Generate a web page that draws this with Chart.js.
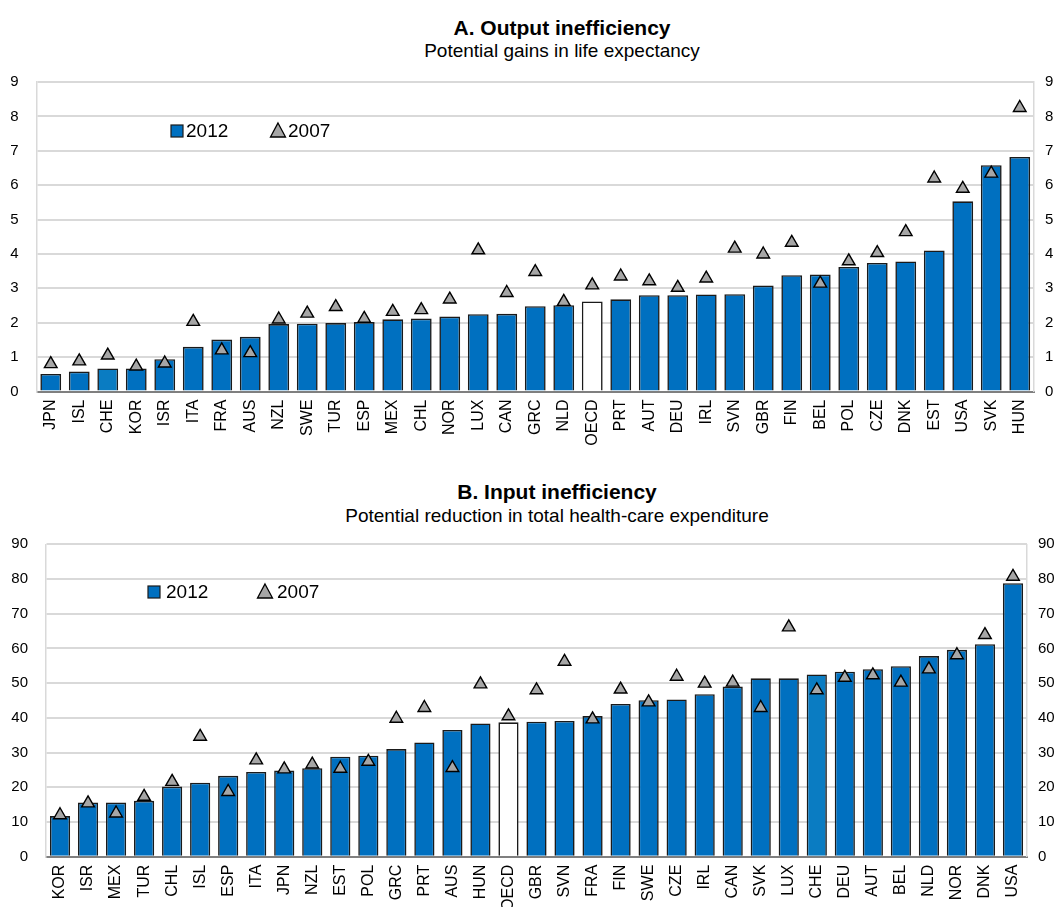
<!DOCTYPE html>
<html>
<head>
<meta charset="utf-8">
<script src="https://cdn.jsdelivr.net/npm/chart.js@4.4.1/dist/chart.umd.min.js"></script>
<style>
  html, body { margin: 0; padding: 0; background: #fff; }
  body { width: 1057px; height: 907px; position: relative; overflow: hidden; font-family: "Liberation Sans", Arial, sans-serif; }
  .ttl { position: absolute; transform: translateX(-50%); white-space: nowrap; color: #000; }
  .main { font-weight: bold; font-size: 21px; line-height: 24px; }
  .sub { font-size: 19px; line-height: 22px; }
  canvas { position: absolute; left: 0; }
</style>
</head>
<body>
<div class="ttl main" style="left:562px; top:16px;">A. Output inefficiency</div>
<div class="ttl sub" style="left:562px; top:40px;">Potential gains in life expectancy</div>
<div class="ttl main" style="left:557px; top:480px;">B. Input inefficiency</div>
<div class="ttl sub" style="left:557px; top:505px;">Potential reduction in total health-care expenditure</div>
<canvas id="cA" width="1057" height="455" style="top:0px"></canvas>
<canvas id="cB" width="1057" height="447" style="top:460px"></canvas>
<script>
// ---------- Data ----------
const seriesLabels = ['2012', '2007'];

const catsA = ['JPN','ISL','CHE','KOR','ISR','ITA','FRA','AUS','NZL','SWE','TUR','ESP','MEX','CHL','NOR','LUX','CAN','GRC','NLD','OECD','PRT','AUT','DEU','IRL','SVN','GBR','FIN','BEL','POL','CZE','DNK','EST','USA','SVK','HUN'];
const a2012 = [0.51,0.58,0.67,0.67,0.94,1.30,1.51,1.59,1.96,1.97,1.99,2.02,2.10,2.12,2.18,2.25,2.26,2.48,2.51,2.62,2.68,2.80,2.80,2.82,2.83,3.08,3.38,3.40,3.62,3.74,3.78,4.10,5.53,6.58,6.82];
const a2007 = [0.80,0.88,1.05,0.73,0.82,2.03,1.20,1.12,2.10,2.27,2.46,2.12,2.32,2.37,2.68,4.11,2.87,3.48,2.61,3.09,3.35,3.21,3.02,3.29,4.16,3.99,4.33,3.14,3.79,4.03,4.64,6.20,5.90,6.34,8.25];
const ticksA = [0,1,2,3,4,5,6,7,8,9];

const catsB = ['KOR','ISR','MEX','TUR','CHL','ISL','ESP','ITA','JPN','NZL','EST','POL','GRC','PRT','AUS','HUN','OECD','GBR','SVN','FRA','FIN','SWE','CZE','IRL','CAN','SVK','LUX','CHE','DEU','AUT','BEL','NLD','NOR','DNK','USA'];
const b2012 = [11.7,15.6,15.6,16.1,20.2,21.3,23.3,24.4,24.8,25.5,28.8,29.1,31.0,32.9,36.5,38.4,38.7,38.9,39.1,40.5,44.0,45.1,45.3,46.8,49.0,51.4,51.4,52.5,53.3,54.0,54.9,57.8,59.6,61.2,78.8];
const b2007 = [12.0,15.4,12.5,17.3,21.6,34.6,18.7,27.8,25.2,26.6,25.4,27.4,39.8,42.9,25.6,49.7,40.5,48.0,56.2,39.6,48.2,44.5,51.9,49.9,50.2,42.9,66.1,48.0,51.6,52.3,50.2,54.0,58.1,63.9,80.7];
const ticksB = [0,10,20,30,40,50,60,70,80,90];

// ---------- Styling ----------
const FONT = '"Liberation Sans", Arial, sans-serif';
const BLUE = '#0070C0';
const BLUE_LIGHT = '#0A7CC2';
const TRI_FILL = '#A6A6A6';
const GRID = '#D9D9D9';

const legendPlugin = {
  id: 'inLegend',
  afterDraw(chart, args, opts) {
    const ctx = chart.ctx;
    const ds = chart.data.datasets;
    const barDs = ds.find(d => d.type === 'bar');
    const triDs = ds.find(d => d.type === 'line');
    ctx.save();
    ctx.font = '19px ' + FONT;
    ctx.textBaseline = 'middle';
    ctx.textAlign = 'left';
    // square item
    const s = opts.square;
    ctx.fillStyle = BLUE;
    ctx.strokeStyle = '#1a1a1a';
    ctx.lineWidth = 1.2;
    ctx.fillRect(s.x - 6, s.y - 6, 12, 12);
    ctx.strokeRect(s.x - 6, s.y - 6, 12, 12);
    ctx.fillStyle = '#000';
    ctx.fillText(barDs.label, s.tx, s.y + 1);
    // triangle item
    const t = opts.tri;
    ctx.beginPath();
    ctx.moveTo(t.x, t.y - 8);
    ctx.lineTo(t.x + 7.5, t.y + 6);
    ctx.lineTo(t.x - 7.5, t.y + 6);
    ctx.closePath();
    ctx.fillStyle = TRI_FILL;
    ctx.fill();
    ctx.strokeStyle = '#000';
    ctx.lineWidth = 1.3;
    ctx.stroke();
    ctx.fillStyle = '#000';
    ctx.fillText(triDs.label, t.tx, t.y + 1);
    ctx.restore();
  }
};

function makeChart(id, cats, v12, v07, ticks, geo) {
  const yMax = ticks[ticks.length - 1];
  const step = ticks[1] - ticks[0];
  const tickFont = { family: FONT, size: 15 };
  const xFont = { family: FONT, size: 16 };
  return new Chart(document.getElementById(id), {
    data: {
      labels: cats,
      datasets: [
        {
          type: 'line',
          label: seriesLabels[1],
          data: v07,
          showLine: false,
          pointStyle: 'triangle',
          pointRadius: 7.3,
          pointHoverRadius: 7.3,
          pointBackgroundColor: TRI_FILL,
          pointBorderColor: '#000',
          pointBorderWidth: 1.4,
          order: 0,
          yAxisID: 'y'
        },
        {
          type: 'bar',
          label: seriesLabels[0],
          data: v12,
          backgroundColor: (c) => {
            const l = cats[c.dataIndex];
            if (l === 'OECD') return '#FFFFFF';
            if (l === 'CHE') return BLUE_LIGHT;
            return BLUE;
          },
          borderColor: '#1a1a1a',
          borderWidth: 1.6,
          borderSkipped: 'bottom',
          barPercentage: geo.barPct,
          categoryPercentage: 1.0,
          order: 1,
          yAxisID: 'y'
        }
      ]
    },
    options: {
      responsive: false,
      animation: false,
      events: [],
      layout: { padding: { top: geo.top, left: 0, right: 0, bottom: 0 } },
      plugins: {
        legend: { display: false },
        tooltip: { enabled: false },
        title: { display: false },
        inLegend: geo.legend
      },
      scales: {
        x: {
          type: 'category',
          offset: true,
          grid: { display: false, drawTicks: false },
          border: { display: true, color: '#7F7F7F', width: 2 },
          ticks: {
            autoSkip: false, maxRotation: 90, minRotation: 90,
            padding: 8, color: '#000', font: xFont
          },
          afterFit: (s) => { s.height = geo.xH; }
        },
        y: {
          type: 'linear', position: 'left', min: 0, max: yMax,
          grid: { color: GRID, lineWidth: 2, drawTicks: false },
          border: { display: true, color: GRID, width: 1.5 },
          ticks: {
            stepSize: step, padding: geo.lPad, color: '#000', font: tickFont,
            callback: (v) => ticks.includes(v) ? String(v) : ''
          },
          afterFit: (s) => { s.width = geo.lW; }
        },
        y2: {
          type: 'linear', position: 'right', min: 0, max: yMax,
          grid: { display: false, drawTicks: false },
          border: { display: true, color: GRID, width: 1.5 },
          ticks: {
            stepSize: step, padding: geo.rPad, color: '#000', font: tickFont,
            callback: (v) => ticks.includes(v) ? String(v) : ''
          },
          afterFit: (s) => { s.width = geo.rW; }
        }
      }
    },
    plugins: [legendPlugin]
  });
}

makeChart('cA', catsA, a2012, a2007, ticksA, {
  top: 82, xH: 455 - 391.5, lW: 36.5, rW: 1057 - 1034, lPad: 18, rPad: 11, barPct: 0.73,
  legend: { square: { x: 177, y: 131, tx: 186 }, tri: { x: 278, y: 131, tx: 288 } }
});

makeChart('cB', catsB, b2012, b2007, ticksB, {
  top: 84.3, xH: 447 - 396.7, lW: 46, rW: 1057 - 1027, lPad: 18, rPad: 11, barPct: 0.72,
  legend: { square: { x: 154, y: 132, tx: 166 }, tri: { x: 265, y: 132, tx: 277 } }
});
</script>
</body>
</html>
